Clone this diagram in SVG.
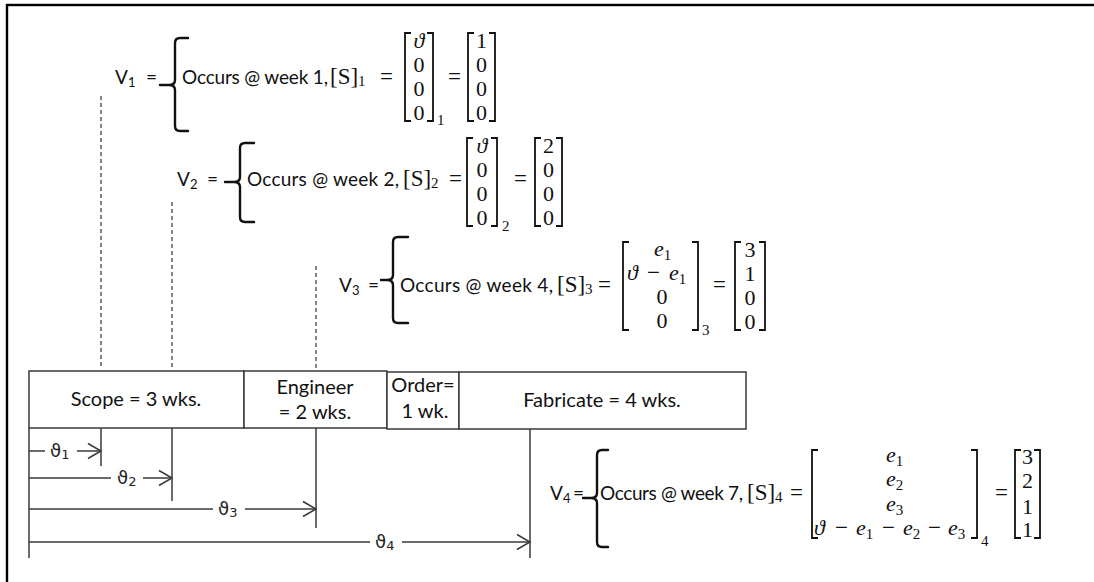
<svg xmlns="http://www.w3.org/2000/svg" width="1094" height="582" viewBox="0 0 1094 582">
<defs>
<style>
.t{font-family:Lato,"Liberation Sans",sans-serif;font-size:19px;fill:#111}
.bt{font-family:Lato,"Liberation Sans",sans-serif;font-size:20px;fill:#111;text-anchor:middle}
.m{font-family:"Liberation Serif","DejaVu Serif",serif;font-size:23px;fill:#111}
.mc{font-family:"Liberation Serif","DejaVu Serif",serif;font-size:22px;fill:#111;text-anchor:middle}
.mi{font-style:italic;font-size:22px}
.ms{font-family:"Liberation Serif","DejaVu Serif",serif;font-size:15px;fill:#111}
.sub{font-size:13px}
.br{fill:none;stroke:#111;stroke-width:2.4;stroke-linecap:round}
.mx{fill:none;stroke:#111;stroke-width:1.8}
.box{fill:#fff;stroke:#3a3a3a;stroke-width:1.5}
.ln{stroke:#3a3a3a;stroke-width:1.5;fill:none}
.dash{stroke:#333;stroke-width:1.2;stroke-dasharray:4 3;fill:none}
.lab{font-family:"DejaVu Sans","Noto Sans",sans-serif;font-size:18px;fill:#222}
</style>
<marker id="ah" markerUnits="userSpaceOnUse" markerWidth="16" markerHeight="18" refX="14" refY="9" orient="auto">
<path d="M1,1.5 L14,9 L1,16.5" fill="none" stroke="#3a3a3a" stroke-width="1.5"/>
</marker>
</defs>
<rect x="0" y="0" width="1094" height="582" fill="#fff"/>
<rect x="7" y="5" width="1200" height="700" fill="none" stroke="#000" stroke-width="2.4"/>

<g id="v1">
<text class="t" x="115" y="84">V<tspan class="sub" dy="3">1</tspan></text>
<text class="t" x="146" y="84">=</text>
<path class="br" d="M188,38 L180,38 Q175,38 175,43 L175,80 Q175,85 169,85 L160,85 M169,85 Q175,85 175,90 L175,126 Q175,131 180,131 L188,131"/>
<text class="t" x="182" y="84" textLength="146" lengthAdjust="spacing">Occurs @ week 1,</text>
<text class="m" x="330" y="84">[S]</text>
<text class="ms" x="358" y="86">1</text>
<text class="m" x="380" y="84">=</text>
<path class="mx" d="M411,33 H405 V121 H411"/>
<path class="mx" d="M427,33 H433 V121 H427"/>
<text class="mc mi" x="419" y="48">ϑ</text>
<text class="mc" x="419" y="72">0</text>
<text class="mc" x="419" y="96">0</text>
<text class="mc" x="419" y="120">0</text>
<text class="ms" x="437" y="125">1</text>
<text class="m" x="448" y="84">=</text>
<path class="mx" d="M474,33 H468 V121 H474"/>
<path class="mx" d="M489,33 H495 V121 H489"/>
<text class="mc" x="481.5" y="48">1</text>
<text class="mc" x="481.5" y="72">0</text>
<text class="mc" x="481.5" y="96">0</text>
<text class="mc" x="481.5" y="120">0</text>
</g>

<g id="v2">
<text class="t" x="177" y="186">V<tspan class="sub" dy="3">2</tspan></text>
<text class="t" x="207" y="186">=</text>
<path class="br" d="M254,143 L245,143 Q240,143 240,148 L240,177 Q240,182 234,182 L225,182 M234,182 Q240,182 240,187 L240,217 Q240,222 245,222 L254,222"/>
<text class="t" x="247" y="186" textLength="152" lengthAdjust="spacing">Occurs @ week 2,</text>
<text class="m" x="403" y="186">[S]</text>
<text class="ms" x="431" y="188">2</text>
<text class="m" x="449" y="186">=</text>
<path class="mx" d="M473,138 H467 V226 H473"/>
<path class="mx" d="M491,138 H497 V226 H491"/>
<text class="mc mi" x="482" y="153">ϑ</text>
<text class="mc" x="482" y="177">0</text>
<text class="mc" x="482" y="201">0</text>
<text class="mc" x="482" y="225">0</text>
<text class="ms" x="502" y="231">2</text>
<text class="m" x="514" y="186">=</text>
<path class="mx" d="M541,138 H535 V226 H541"/>
<path class="mx" d="M556,138 H562 V226 H556"/>
<text class="mc" x="548.5" y="153">2</text>
<text class="mc" x="548.5" y="177">0</text>
<text class="mc" x="548.5" y="201">0</text>
<text class="mc" x="548.5" y="225">0</text>
</g>

<g id="v3">
<text class="t" x="339" y="292">V<tspan class="sub" dy="3">3</tspan></text>
<text class="t" x="368" y="292">=</text>
<path class="br" d="M408,237 L398,237 Q393,237 393,242 L393,275 Q393,280 387,280 L381,280 M387,280 Q393,280 393,285 L393,318 Q393,323 398,323 L408,323"/>
<text class="t" x="400" y="292" textLength="153" lengthAdjust="spacing">Occurs @ week 4,</text>
<text class="m" x="557" y="292">[S]</text>
<text class="ms" x="585" y="294">3</text>
<text class="m" x="598" y="292">=</text>
<path class="mx" d="M629,242 H623 V330 H629"/>
<path class="mx" d="M692,242 H698 V330 H692"/>
<text class="m mi" x="654" y="256">e<tspan class="ms" font-style="normal" dy="4">1</tspan></text>
<text class="m mi" x="627" y="280">ϑ</text>
<text class="m" x="647" y="280">−</text>
<text class="m mi" x="669" y="280">e<tspan class="ms" font-style="normal" dy="4">1</tspan></text>
<text class="mc" x="662" y="304">0</text>
<text class="mc" x="662" y="328">0</text>
<text class="ms" x="702" y="335">3</text>
<text class="m" x="713" y="292">=</text>
<path class="mx" d="M741,242 H735 V330 H741"/>
<path class="mx" d="M759,242 H765 V330 H759"/>
<text class="mc" x="750" y="257">3</text>
<text class="mc" x="750" y="281">1</text>
<text class="mc" x="750" y="305">0</text>
<text class="mc" x="750" y="329">0</text>
</g>

<g id="v4">
<text class="t" x="550" y="500">V<tspan class="sub" dy="3">4</tspan></text>
<text class="t" x="573" y="500">=</text>
<path class="br" d="M608,450 L602,450 Q597,450 597,455 L597,493 Q597,498 591,498 L583,498 M591,498 Q597,498 597,503 L597,542 Q597,547 602,547 L608,547"/>
<text class="t" x="600" y="500" textLength="143" lengthAdjust="spacing">Occurs @ week 7,</text>
<text class="m" x="747" y="500">[S]</text>
<text class="ms" x="775" y="502">4</text>
<text class="m" x="790" y="500">=</text>
<path class="mx" d="M818,450 H812 V538 H818"/>
<path class="mx" d="M971,450 H977 V538 H971"/>
<text class="m mi" x="886" y="462">e<tspan class="ms" font-style="normal" dy="4">1</tspan></text>
<text class="m mi" x="886" y="486">e<tspan class="ms" font-style="normal" dy="4">2</tspan></text>
<text class="m mi" x="886" y="511">e<tspan class="ms" font-style="normal" dy="4">3</tspan></text>
<text class="m mi" x="814" y="535">ϑ</text>
<text class="m" x="835" y="535">−</text>
<text class="m mi" x="856" y="535">e<tspan class="ms" font-style="normal" dy="4">1</tspan></text>
<text class="m" x="882" y="535">−</text>
<text class="m mi" x="903" y="535">e<tspan class="ms" font-style="normal" dy="4">2</tspan></text>
<text class="m" x="928" y="535">−</text>
<text class="m mi" x="948" y="535">e<tspan class="ms" font-style="normal" dy="4">3</tspan></text>
<text class="ms" x="981" y="546">4</text>
<text class="m" x="995" y="500">=</text>
<path class="mx" d="M1021,450 H1015 V538 H1021"/>
<path class="mx" d="M1034,450 H1040 V538 H1034"/>
<text class="mc" x="1027.5" y="464">3</text>
<text class="mc" x="1027.5" y="488">2</text>
<text class="mc" x="1027.5" y="514">1</text>
<text class="mc" x="1027.5" y="537">1</text>
</g>

<g id="scope">
<rect class="box" x="29" y="371" width="215" height="57"/>
<text class="bt" x="136" y="406">Scope = 3 wks.</text>
</g>
<g id="engineer">
<rect class="box" x="244" y="371" width="143" height="57"/>
<text class="bt" x="315" y="394">Engineer</text>
<text class="bt" x="315" y="419">= 2 wks.</text>
</g>
<g id="order">
<rect class="box" x="387" y="372" width="72" height="57"/>
<text class="bt" x="423" y="392">Order=</text>
<text class="bt" x="425" y="418">1 wk.</text>
</g>
<g id="fabricate">
<rect class="box" x="459" y="372" width="287" height="57"/>
<text class="bt" x="602" y="407">Fabricate = 4 wks.</text>
</g>

<g id="connectors">
<line class="dash" x1="101" y1="96" x2="101" y2="368"/>
<line class="dash" x1="172" y1="202" x2="172" y2="368"/>
<line class="dash" x1="316" y1="266" x2="316" y2="368"/>
<line class="ln" x1="29" y1="428" x2="29" y2="558"/>
<line class="ln" x1="101" y1="428" x2="101" y2="466"/>
<line class="ln" x1="172" y1="428" x2="172" y2="501"/>
<line class="ln" x1="316" y1="428" x2="316" y2="528"/>
<line class="ln" x1="530" y1="429" x2="530" y2="558"/>
<line class="ln" x1="29" y1="451" x2="45" y2="451"/>
<line class="ln" x1="77" y1="451" x2="101" y2="451" marker-end="url(#ah)"/>
<line class="ln" x1="29" y1="478" x2="111" y2="478"/>
<line class="ln" x1="143" y1="478" x2="172" y2="478" marker-end="url(#ah)"/>
<line class="ln" x1="29" y1="509" x2="213" y2="509"/>
<line class="ln" x1="245" y1="509" x2="316" y2="509" marker-end="url(#ah)"/>
<line class="ln" x1="29" y1="542" x2="370" y2="542"/>
<line class="ln" x1="402" y1="542" x2="530" y2="542" marker-end="url(#ah)"/>
<text class="lab" x="50" y="457">ϑ<tspan font-size="13" dy="2">1</tspan></text>
<text class="lab" x="117" y="484">ϑ<tspan font-size="13" dy="2">2</tspan></text>
<text class="lab" x="218" y="515">ϑ<tspan font-size="13" dy="2">3</tspan></text>
<text class="lab" x="375" y="548">ϑ<tspan font-size="13" dy="2">4</tspan></text>
</g>
</svg>
